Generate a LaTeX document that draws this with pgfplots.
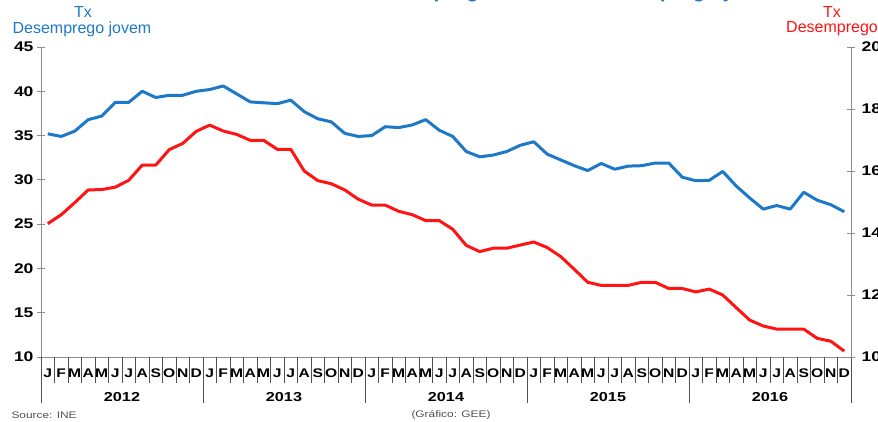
\documentclass[border=0pt]{standalone}
\usepackage{pgfplots}
\pgfplotsset{compat=1.18}
\usepackage{fontspec}
\setmainfont{Liberation Sans}
\newfontfamily\wide{Liberation Sans}[FakeStretch=1.25]
\definecolor{ublue}{RGB}{30,120,200}
\definecolor{ured}{RGB}{255,20,20}
\definecolor{agray}{RGB}{140,140,140}
\definecolor{dgray}{RGB}{80,80,80}
\pgfplotstableread{
x y
0.5 35.2
1.5 34.9
2.5 35.5
3.5 36.8
4.5 37.2
5.5 38.75
6.5 38.75
7.5 40.0
8.5 39.3
9.5 39.55
10.5 39.55
11.5 40.0
12.5 40.2
13.5 40.6
14.5 39.7
15.5 38.8
16.5 38.7
17.5 38.6
18.5 39.0
19.5 37.7
20.5 36.9
21.5 36.55
22.5 35.25
23.5 34.9
24.5 35.0
25.5 36.0
26.5 35.9
27.5 36.2
28.5 36.8
29.5 35.6
30.5 34.9
31.5 33.2
32.5 32.6
33.5 32.8
34.5 33.2
35.5 33.9
36.5 34.3
37.5 32.9
38.5 32.25
39.5 31.6
40.5 31.05
41.5 31.85
42.5 31.2
43.5 31.55
44.5 31.6
45.5 31.9
46.5 31.9
47.5 30.3
48.5 29.9
49.5 29.95
50.5 30.95
51.5 29.3
52.5 27.95
53.5 26.7
54.5 27.1
55.5 26.7
56.5 28.6
57.5 27.7
58.5 27.2
59.5 26.4
}\jovem
\pgfplotstableread{
x y
0.5 14.30
1.5 14.59
2.5 14.98
3.5 15.39
4.5 15.40
5.5 15.48
6.5 15.70
7.5 16.19
8.5 16.19
9.5 16.69
10.5 16.89
11.5 17.28
12.5 17.48
13.5 17.29
14.5 17.18
15.5 16.99
16.5 16.99
17.5 16.70
18.5 16.70
19.5 16.0
20.5 15.69
21.5 15.59
22.5 15.39
23.5 15.09
24.5 14.90
25.5 14.90
26.5 14.70
27.5 14.59
28.5 14.40
29.5 14.40
30.5 14.12
31.5 13.60
32.5 13.40
33.5 13.51
34.5 13.51
35.5 13.61
36.5 13.71
37.5 13.53
38.5 13.24
39.5 12.83
40.5 12.41
41.5 12.31
42.5 12.31
43.5 12.31
44.5 12.41
45.5 12.41
46.5 12.21
47.5 12.21
48.5 12.10
49.5 12.19
50.5 12.0
51.5 11.59
52.5 11.19
53.5 11.0
54.5 10.90
55.5 10.90
56.5 10.90
57.5 10.60
58.5 10.51
59.5 10.19
}\total
\begin{document}
\begin{tikzpicture}[x=1pt,y=1pt]
\useasboundingbox (0,0) rectangle (878,421);
\begin{axis}[
  at={(41pt,64pt)}, anchor=south west,
  width=810pt, height=310pt, scale only axis,
  xmin=0, xmax=60, ymin=10, ymax=45,
  axis x line*=bottom, axis y line*=left,
  axis line style={agray, line width=1pt},
  ytick={10,15,...,45}, yticklabels={10,15,20,25,30,35,40,45},
  yticklabel style={font=\wide\bfseries\fontsize{14}{14}\selectfont},
  ytick style={agray, line width=0.8pt},
  major tick length=8pt, tick align=center,
  xtick={0.5,1.5,...,59.5},
  xticklabels={J,F,M,A,M,J,J,A,S,O,N,D,J,F,M,A,M,J,J,A,S,O,N,D,J,F,M,A,M,J,J,A,S,O,N,D,J,F,M,A,M,J,J,A,S,O,N,D,J,F,M,A,M,J,J,A,S,O,N,D},
  xtick style={draw=none},
  xticklabel style={font=\wide\bfseries\fontsize{12.5}{12.5}\selectfont, inner sep=0pt, anchor=center, yshift=-12pt},
  clip=false,
]
\addplot[ublue, line width=3pt, line join=round] table[x=x,y=y] {\jovem};
\pgfplotsinvokeforeach{0,...,60}{\draw[dgray, line width=0.9pt] (axis cs:#1,10) -- ++(0pt,-26pt);}
\pgfplotsinvokeforeach{0,12,24,36,48,60}{\draw[dgray, line width=0.9pt] (axis cs:#1,10) -- ++(0pt,-46pt);}
\node[font=\wide\bfseries\fontsize{13}{13}\selectfont] at ([yshift=-40pt]axis cs:6,10) {2012};
\node[font=\wide\bfseries\fontsize{13}{13}\selectfont] at ([yshift=-40pt]axis cs:18,10) {2013};
\node[font=\wide\bfseries\fontsize{13}{13}\selectfont] at ([yshift=-40pt]axis cs:30,10) {2014};
\node[font=\wide\bfseries\fontsize{13}{13}\selectfont] at ([yshift=-40pt]axis cs:42,10) {2015};
\node[font=\wide\bfseries\fontsize{13}{13}\selectfont] at ([yshift=-40pt]axis cs:54,10) {2016};
\end{axis}
\begin{axis}[
  at={(41pt,64pt)}, anchor=south west,
  width=810pt, height=310pt, scale only axis,
  xmin=0, xmax=60, ymin=10, ymax=20,
  axis x line=none, axis y line*=right,
  axis line style={agray, line width=1pt},
  ytick={10,12,...,20}, yticklabels={10,12,14,16,18,20},
  yticklabel style={font=\wide\bfseries\fontsize{14}{14}\selectfont, xshift=3pt},
  ytick style={agray, line width=0.8pt},
  major tick length=8pt, tick align=center,
  clip=false,
]
\addplot[ured, line width=3pt, line join=round] table[x=x,y=y] {\total};
\end{axis}
\node[text=ublue, font=\fontsize{16}{16}\selectfont] at (83,409) {Tx};
\node[text=ublue, font=\fontsize{16}{16}\selectfont] at (82,392) {Desemprego jovem};
\node[text=ured, font=\fontsize{16}{16}\selectfont] at (832,409) {Tx};
\node[text=ured, font=\fontsize{16}{16}\selectfont] at (832,392) {Desemprego};
\node[anchor=west, text=dgray, font=\wide\fontsize{9.5}{9.5}\selectfont] at (8,6) {Source: INE};
\node[text=dgray, font=\wide\fontsize{9.5}{9.5}\selectfont] at (451,6) {(Gráfico: GEE)};
\node[anchor=base west, text=ublue, font=\bfseries\fontsize{21}{21}\selectfont] at (281,423) {Taxa de desemprego e taxa de desemprego jovem};
\end{tikzpicture}
\end{document}
